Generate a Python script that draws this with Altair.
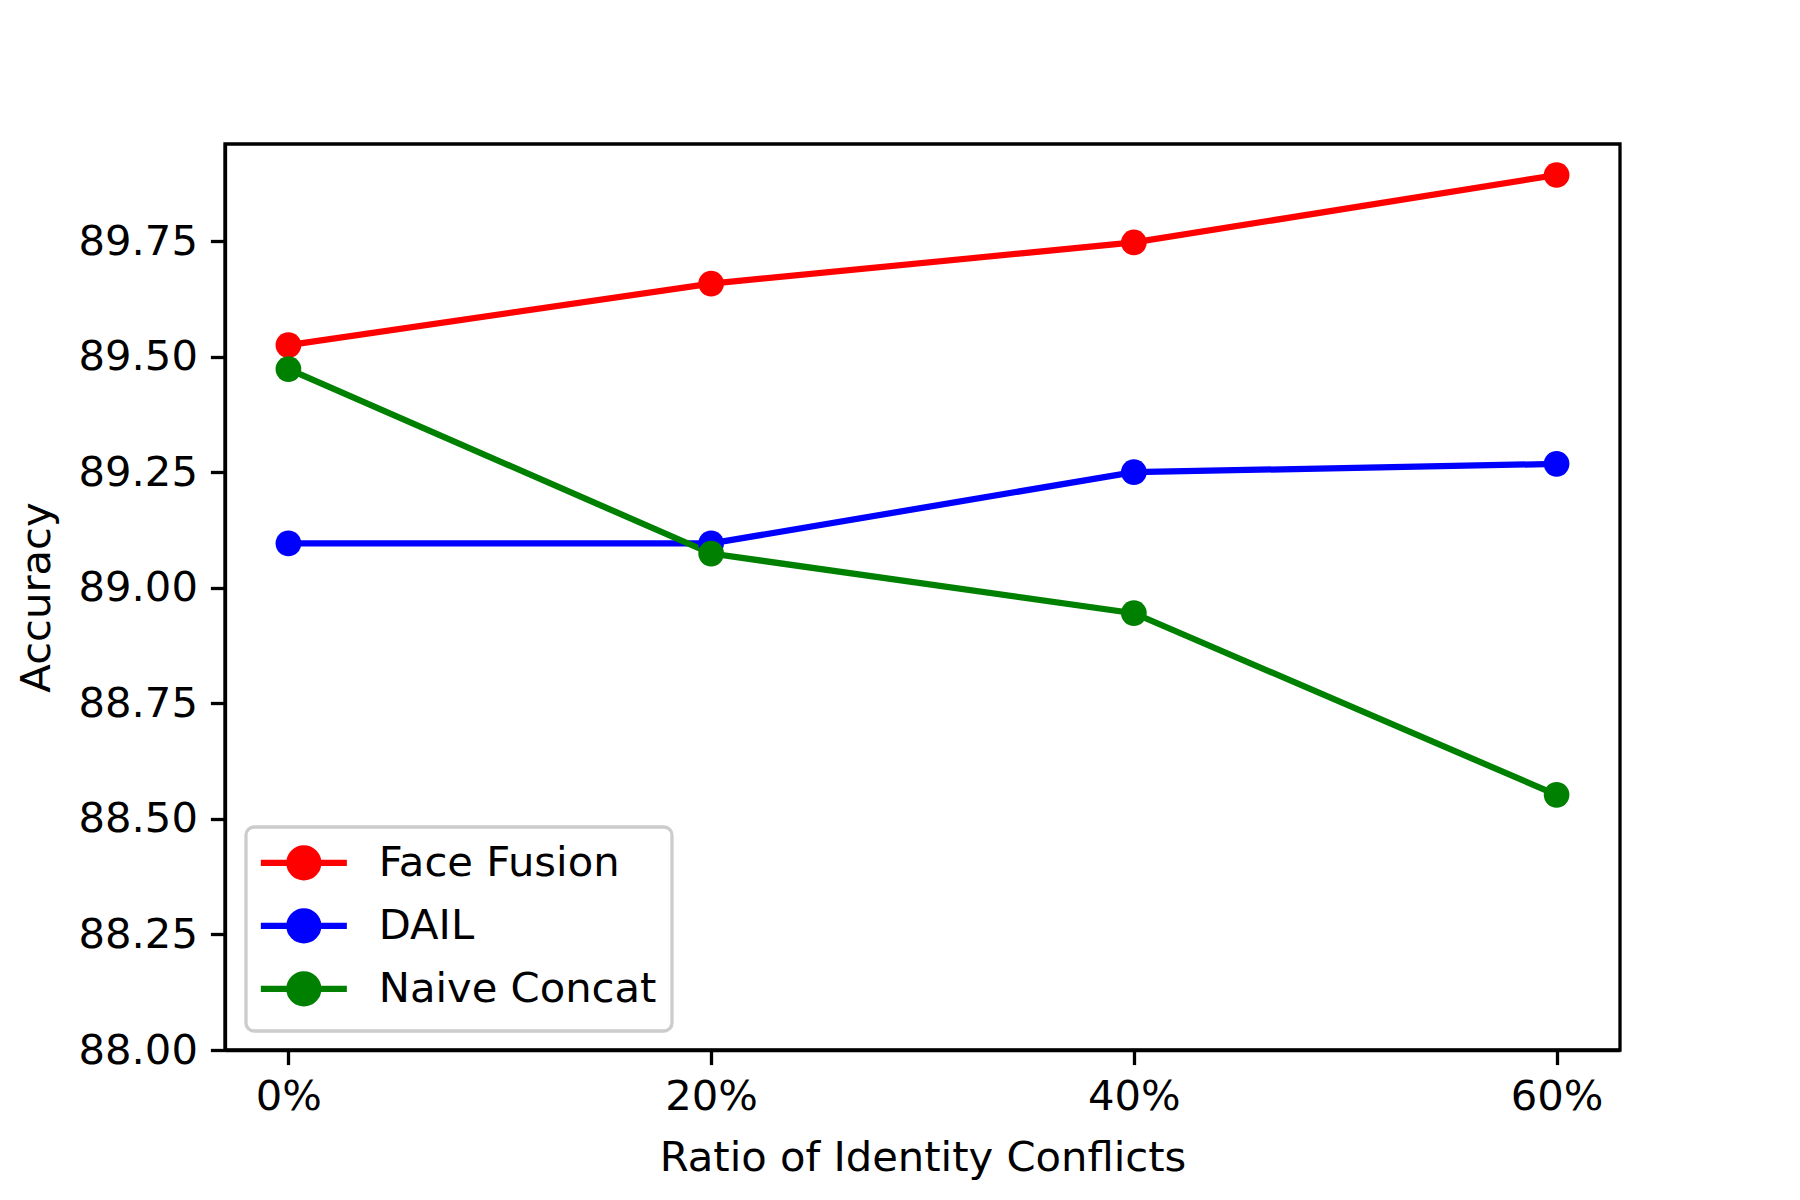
import altair as alt
import pandas as pd

ratios = [0, 20, 40, 60]
face_fusion = [89.525, 89.658, 89.747, 89.893]
dail = [89.096, 89.096, 89.250, 89.268]
naive_concat = [89.473, 89.074, 88.945, 88.552]
series_names = ["Face Fusion", "DAIL", "Naive Concat"]
series_colors = ["#ff0000", "#0000ff", "#008000"]
y_ticks = [88.0, 88.25, 88.5, 88.75, 89.0, 89.25, 89.5, 89.75]

rows = []
for name, vals in zip(series_names, [face_fusion, dail, naive_concat]):
    for r, v in zip(ratios, vals):
        rows.append({"ratio": r, "acc": v, "series": name, "order": series_names.index(name)})
df = pd.DataFrame(rows)

FONT = "DejaVu Sans"
FS = 41.7
LW = 6.25
SPINE = 3.3

# legend handle: line with a circle marker in the middle (circle radius = 1 unit)
legend_path = ("M-2.966,0L2.966,0M1,0A1,1,0,1,1,-1,0"
               "A1,1,0,1,1,1,0Z")

color = alt.Color(
    "series:N",
    scale=alt.Scale(domain=series_names, range=series_colors),
    sort=series_names,
    legend=alt.Legend(
        title=None,
        orient="none",
        legendX=21,
        legendY=683,
        symbolType=legend_path,
        symbolSize=841,
        symbolStrokeWidth=LW,
        symbolOffset=22,
        labelFont=FONT,
        labelFontSize=FS,
        labelColor="black",
        labelOffset=54,
        labelLimit=600,
        rowPadding=8,
        padding=15,
        fillColor="white",
        strokeColor="#cccccc",
        cornerRadius=8,
    ),
)

x = alt.X(
    "ratio:Q",
    scale=alt.Scale(domain=[-3, 63], nice=False, zero=False),
    axis=alt.Axis(values=ratios, labelExpr="datum.value + '%'",
                  title="Ratio of Identity Conflicts", grid=False,
                  labelPadding=12, titlePadding=19),
)
y = alt.Y(
    "acc:Q",
    scale=alt.Scale(domain=[88.0, 89.96], nice=False, zero=False),
    axis=alt.Axis(values=y_ticks, format=".2f", title="Accuracy", grid=False,
                  labelPadding=13, titlePadding=20),
)

base = alt.Chart(df)
lines = base.mark_line(strokeWidth=LW).encode(x=x, y=y, color=color, order="order:Q")
points = base.mark_circle(size=660, opacity=1).encode(x=x, y=y, color=color, order="order:Q")

chart = alt.layer(lines, points).properties(
    width=1395,
    height=906,
    autosize=alt.AutoSizeParams(type="none"),
    padding={"left": 217, "top": 136, "right": 172, "bottom": 142},
    background="white",
).configure_view(
    stroke="black", strokeWidth=SPINE
).configure_axis(
    domainColor="black", domainWidth=SPINE,
    tickColor="black", tickWidth=SPINE, tickSize=14.6,
    labelFont=FONT, labelFontSize=FS, labelColor="black",
    titleFont=FONT, titleFontSize=FS, titleColor="black", titleFontWeight="normal",
)

try:
    c2 = chart.configure_legend(strokeWidth=SPINE)
    c2.to_dict()
    chart = c2
except Exception:
    pass

chart.save("out.html", embed_options={"renderer": "svg", "actions": False})
